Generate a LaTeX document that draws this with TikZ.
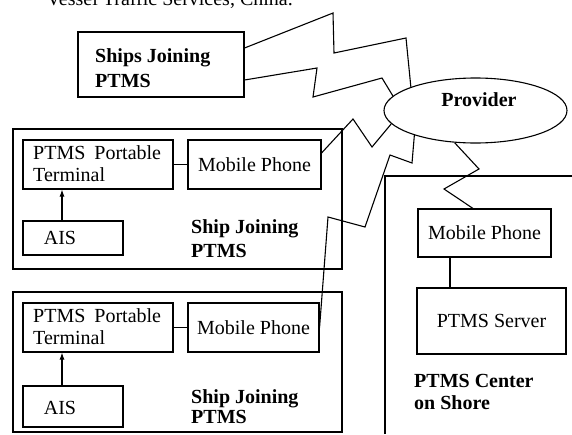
\documentclass[tikz,border=0pt]{standalone}
\usepackage{fontspec}
\setmainfont{Liberation Serif}
\usetikzlibrary{arrows.meta,shapes.geometric}
\begin{document}
\begin{tikzpicture}[x=1pt,y=-1pt,
  box/.style={draw,line width=1.1pt,inner sep=0pt,font=\fontsize{20}{24}\selectfont},
  txt/.style={inner sep=0pt,font=\fontsize{20}{24}\selectfont},
  lbl/.style={inner sep=0pt,anchor=north west,align=left},
  wire/.style={line width=1.1pt,line join=miter},
  arr/.style={wire,-{Latex[length=7pt,width=5pt]}}]
\useasboundingbox (0,0) rectangle (572,434);
\clip (0,0) rectangle (572,434);

% caption fragment at the top, cut by the edge as in the reference
\node[txt,anchor=base east] (cap) at (293,5) {Vessel Traffic Services, China.};

% ships joining (top)
\node[box,minimum width=166pt,minimum height=65pt] (ships) at (161,64.5) {};
\node[lbl,font=\fontsize{20}{25}\selectfont\bfseries] (shipsl) at (95,48) {Ships Joining\\PTMS};

% provider
\node[draw,line width=1.1pt,ellipse,minimum width=183pt,minimum height=65pt,inner sep=0pt] (prov) at (475.5,110.5) {};
\node[txt,font=\fontsize{20}{24}\selectfont\bfseries] (provl) at (479,100) {Provider};

% ship 1
\node[box,minimum width=329pt,minimum height=140pt] (ship1) at (177.5,199) {};
\node[box,minimum width=150pt,minimum height=49pt] (term1) at (98,164.5) {};
\node[lbl,font=\fontsize{20}{22}\selectfont] (term1l) at (33,145) {PTMS\hspace{9pt}Portable\\Terminal};
\node[box,minimum width=133pt,minimum height=49pt] (mob1) at (254.5,164.5) {Mobile Phone};
\node[box,minimum width=100pt,minimum height=34pt] (ais1) at (73,238) {};
\node[txt] (ais1l) at (60,238) {AIS};
\node[lbl,font=\fontsize{20}{24}\selectfont\bfseries] (ship1l) at (191,219) {Ship Joining\\PTMS};
\draw[wire] (term1.east) -- (mob1.west);
\draw[arr] ([xshift=-11pt]ais1.north) -- ([xshift=-11pt]ais1.north |- term1.south);

% ship 2
\node[box,minimum width=329pt,minimum height=140pt] (ship2) at (177.5,362) {};
\node[box,minimum width=150pt,minimum height=49pt] (term2) at (98,327.5) {};
\node[lbl,font=\fontsize{20}{22}\selectfont] (term2l) at (33,308) {PTMS\hspace{9pt}Portable\\Terminal};
\node[box,minimum width=131pt,minimum height=49pt] (mob2) at (253.5,327.5) {Mobile Phone};
\node[box,minimum width=100pt,minimum height=41pt] (ais2) at (73,406.5) {};
\node[txt] (ais2l) at (60,408) {AIS};
\node[lbl,font=\fontsize{20}{20}\selectfont\bfseries] (ship2l) at (191,389.5) {Ship Joining\\PTMS};
\draw[wire] (term2.east) -- (mob2.west);
\draw[arr] ([xshift=-11pt]ais2.north) -- ([xshift=-11pt]ais2.north |- term2.south);

% shore centre
\coordinate (sb) at (385,434);
\coordinate (sc) at (385,176);
\coordinate (se) at (572,176);
\draw[wire] (sb) -- (sc) -- (se);
\node[box,minimum width=133pt,minimum height=48pt] (mob3) at (484.5,233) {Mobile Phone};
\node[box,minimum width=149pt,minimum height=66pt] (server) at (491.5,321) {PTMS Server};
\node[lbl,font=\fontsize{20}{21.6}\selectfont\bfseries] (shorel) at (414,374.5) {PTMS Center\\on Shore};
\draw[wire] ([xshift=-34.5pt]mob3.south) -- ([xshift=-34.5pt]mob3.south |- server.north);

% radio links (zigzags)
\draw[wire] ([yshift=16.5pt]ships.east) -- (333,13) -- (334,53) -- (406,38) -- (prov.160.5);
\draw[wire] ([yshift=-15.5pt]ships.east) -- (317,68) -- (313,97) -- (382,78) -- (prov.170);
\draw[wire] ([yshift=11.5pt]mob1.east) -- (353,119) -- (372,147) -- (prov.189.2);
\draw[wire] (prov.202.7) -- (412,163) -- (390,155) -- (365,227) -- (328,217) -- (mob2.east);
\draw[wire] (prov.237) -- (479,169) -- (444,189) -- ([xshift=-11.5pt]mob3.north);
\end{tikzpicture}
\end{document}
